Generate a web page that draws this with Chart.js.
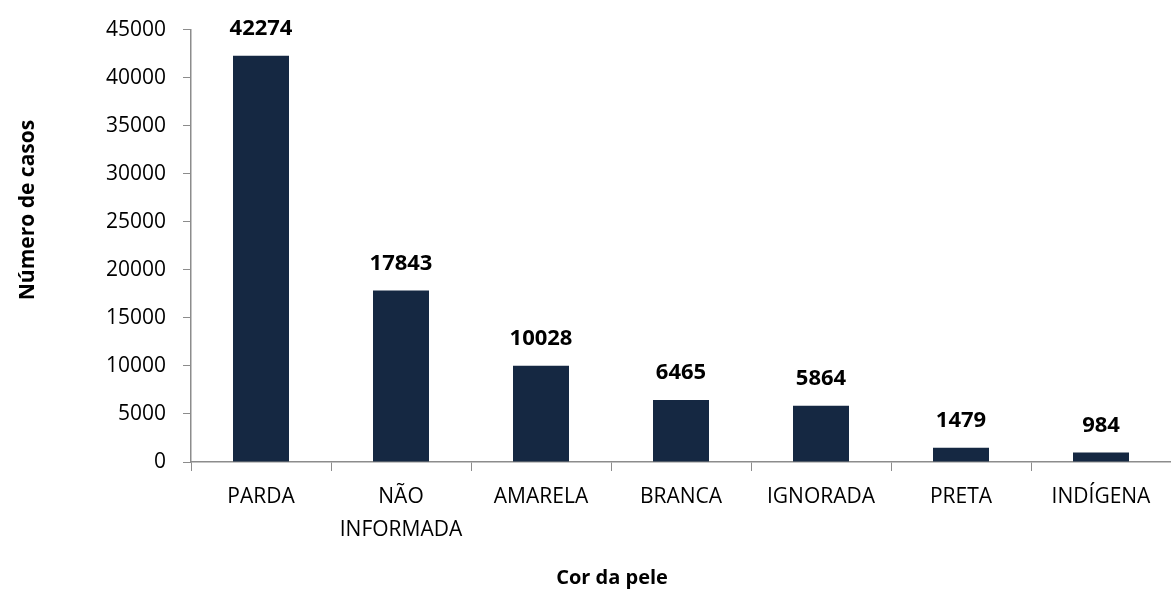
<!DOCTYPE html>
<html>
<head>
<meta charset="utf-8">
<script src="https://cdn.jsdelivr.net/npm/chart.js@4/dist/chart.umd.min.js"></script>
<style>
  html, body { margin: 0; padding: 0; background: #fff; }
  #wrap { width: 1171px; height: 590px; position: relative; }
</style>
</head>
<body>
<div id="wrap"><canvas id="grafico"></canvas></div>
<script>
const categorias = [['PARDA'], ['NÃO', 'INFORMADA'], ['AMARELA'], ['BRANCA'], ['IGNORADA'], ['PRETA'], ['INDÍGENA']];
const casos = [42274, 17843, 10028, 6465, 5864, 1479, 984];
const eixoY = { min: 0, max: 45000, passo: 5000 };

const fonte = '"Open Sans", "Liberation Sans", sans-serif';
const corEixo = '#8c8c8c';

// rótulos em negrito acima das barras + títulos dos eixos
const rotulos = {
    id: 'rotulos',
    afterDatasetsDraw(chart) {
        const ctx = chart.ctx;
        const meta = chart.getDatasetMeta(0);
        ctx.save();
        ctx.font = 'bold 22px ' + fonte;
        ctx.fillStyle = '#000';
        ctx.textAlign = 'center';
        ctx.textBaseline = 'middle';
        meta.data.forEach((bar, i) => {
            ctx.fillText(casos[i], bar.x, bar.y - 27);
        });

        ctx.font = 'bold 20px ' + fonte;
        ctx.fillText('Cor da pele', 612, 578);

        ctx.translate(28, 210);
        ctx.rotate(-Math.PI / 2);
        ctx.font = 'bold 21px ' + fonte;
        ctx.fillText('Número de casos', 0, 0);
        ctx.restore();
    }
};

new Chart(document.getElementById('grafico').getContext('2d'), {
    type: 'bar',
    data: {
        labels: categorias,
        datasets: [{
            data: casos,
            backgroundColor: '#152842',
            barPercentage: 0.4,
            categoryPercentage: 1
        }]
    },
    options: {
        responsive: true,
        maintainAspectRatio: false,
        animation: false,
        layout: { padding: { top: 27, right: 0, left: 0, bottom: 0 } },
        plugins: {
            legend: { display: false },
            tooltip: { enabled: false }
        },
        scales: {
            y: {
                min: eixoY.min,
                max: eixoY.max,
                ticks: {
                    stepSize: eixoY.passo, color: '#000', padding: 17,
                    font: { family: fonte, size: 21 },
                    callback: v => String(v)
                },
                grid: { drawOnChartArea: false, tickLength: 8, color: corEixo },
                border: { color: corEixo, width: 1.5 },
                afterFit(scale) { scale.width = 191; }
            },
            x: {
                ticks: { color: '#000', padding: 10, font: { family: fonte, size: 21, lineHeight: 1.55 }, maxRotation: 0, autoSkip: false },
                grid: { drawOnChartArea: false, tickLength: 9, color: corEixo, offset: true },
                border: { color: corEixo, width: 1.5 },
                afterFit(scale) { scale.height = 128; }
            }
        }
    },
    plugins: [rotulos]
});
</script>
</body>
</html>
